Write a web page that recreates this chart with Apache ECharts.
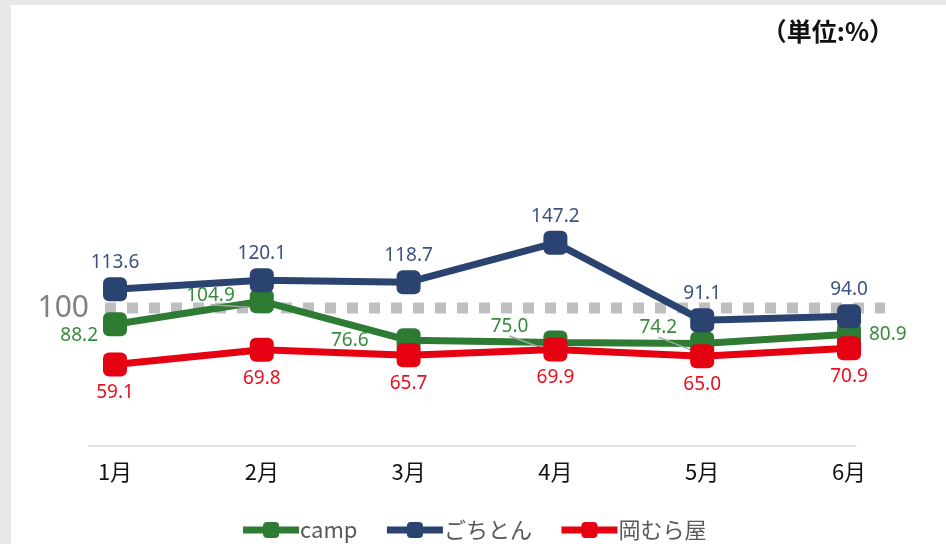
<!DOCTYPE html>
<html>
<head>
<meta charset="utf-8">
<script src="https://cdn.jsdelivr.net/npm/echarts@6/dist/echarts.min.js"></script>
<style>
  html, body { margin: 0; padding: 0; background: #e8e8e8; }
  #panel { position: absolute; left: 11px; top: 5px; width: 935px; height: 539px; background: #fff; }
  #main { position: absolute; left: 0; top: 0; width: 946px; height: 544px; }
</style>
</head>
<body>
<div id="panel"></div>
<div id="main"></div>
<script>
  // 月
  var months = ['1月', '2月', '3月', '4月', '5月', '6月']
  var camp = [88.2, 104.9, 76.6, 75.0, 74.2, 80.9]
  var gochiton = [113.6, 120.1, 118.7, 147.2, 91.1, 94.0]
  var okamuraya = [59.1, 69.8, 65.7, 69.9, 65.0, 70.9]
  var baseLine = [100, 100]

  var font = '"Noto Sans CJK JP", "Noto Sans", sans-serif'
  var numFont = '"Noto Sans", "Open Sans", sans-serif'
  var green = '#2e7b34'
  var blue = '#2b4370'
  var red = '#e50012'

  // camp のラベル: ずらし と 引き出し線
  var campLabelDx = [5, -5, -18, -5, -3, 0]
  var campLabelDy = [11, -6, 0, -16, -16, 0]
  var campLeader = [false, true, false, true, true, false]

  var campData = camp.map(function (v, i) {
    var item = { value: v, labelLine: { show: campLeader[i] } }
    if (i === camp.length - 1) item.label = { position: 'right', distance: 8 }
    return item
  })

  var fmt = function (p) { return Number(p.value).toFixed(1) }

  var chart = echarts.init(document.getElementById('main'))

  chart.setOption({
    backgroundColor: 'transparent',
    animation: false,
    textStyle: { fontFamily: font },
    title: {
      text: '（単位:%）',
      right: 47,
      top: 14,
      textStyle: { fontSize: 25, fontWeight: 'bold', color: '#111', fontFamily: font }
    },
    legend: {
      bottom: -2,
      left: 'center',
      itemWidth: 56,
      itemHeight: 20,
      itemGap: 26,
      lineStyle: { width: 7 },
      textStyle: { fontSize: 22, color: '#595959', fontFamily: font, padding: [0, 0, 0, -4] },
      data: ['camp', 'ごちとん', '岡むら屋']
    },
    grid: [
      { left: 115, right: 97, top: 32, bottom: 98 },
      { left: 105, right: 61, top: 32, bottom: 98 },
      { left: 89, right: 90, top: 32, bottom: 98 }
    ],
    xAxis: [
      {
        type: 'category',
        gridIndex: 0,
        data: months,
        boundaryGap: false,
        axisLine: { show: false },
        axisTick: { show: false },
        axisLabel: { fontSize: 22, color: '#111', margin: 15, fontFamily: font }
      },
      {
        type: 'category',
        gridIndex: 1,
        data: ['', ''],
        boundaryGap: false,
        show: false
      },
      {
        type: 'category',
        gridIndex: 2,
        data: [],
        axisLine: { show: true, lineStyle: { color: '#d9d9d9', width: 1.5 } },
        axisTick: { show: false },
        axisLabel: { show: false }
      }
    ],
    yAxis: [
      { type: 'value', gridIndex: 0, min: 0, max: 300, show: false },
      {
        type: 'value', gridIndex: 1, min: 0, max: 300, interval: 100,
        axisLine: { show: false },
        axisTick: { show: false },
        splitLine: { show: false },
        axisLabel: {
          fontSize: 30, color: '#808080', margin: 16, fontFamily: numFont,
          formatter: function (v) { return v === 100 ? '100' : '' }
        }
      },
      { type: 'value', gridIndex: 2, min: 0, max: 300, show: false }
    ],
    series: [
      {
        name: 'base',
        type: 'line',
        xAxisIndex: 1,
        yAxisIndex: 1,
        data: baseLine,
        symbol: 'none',
        silent: true,
        z: 1,
        lineStyle: { color: '#bfbfbf', width: 11, type: 'dotted', cap: 'butt' }
      },
      {
        name: 'camp',
        type: 'line',
        data: campData,
        symbol: 'roundRect',
        symbolSize: 24,
        z: 3,
        itemStyle: { color: green },
        lineStyle: { color: green, width: 7 },
        label: {
          show: true,
          position: 'left',
          distance: 10,
          fontSize: 19,
          fontFamily: numFont,
          color: '#3a8a3e',
          formatter: fmt
        },
        labelLayout: function (p) {
          return { dx: campLabelDx[p.dataIndex], dy: campLabelDy[p.dataIndex] }
        },
        labelLine: { show: true, lineStyle: { color: '#a6a6a6', width: 1.5 } }
      },
      {
        name: 'ごちとん',
        type: 'line',
        data: gochiton,
        symbol: 'roundRect',
        symbolSize: 24,
        z: 4,
        itemStyle: { color: blue },
        lineStyle: { color: blue, width: 7 },
        label: {
          show: true,
          position: 'top',
          distance: 5,
          fontSize: 19,
          fontFamily: numFont,
          color: '#3b5282',
          formatter: fmt
        }
      },
      {
        name: '岡むら屋',
        type: 'line',
        data: okamuraya,
        symbol: 'roundRect',
        symbolSize: 24,
        z: 5,
        itemStyle: { color: red },
        lineStyle: { color: red, width: 7 },
        label: {
          show: true,
          position: 'bottom',
          distance: 7,
          fontSize: 19,
          fontFamily: numFont,
          color: '#e8101f',
          formatter: fmt
        }
      }
    ]
  })
</script>
</body>
</html>
